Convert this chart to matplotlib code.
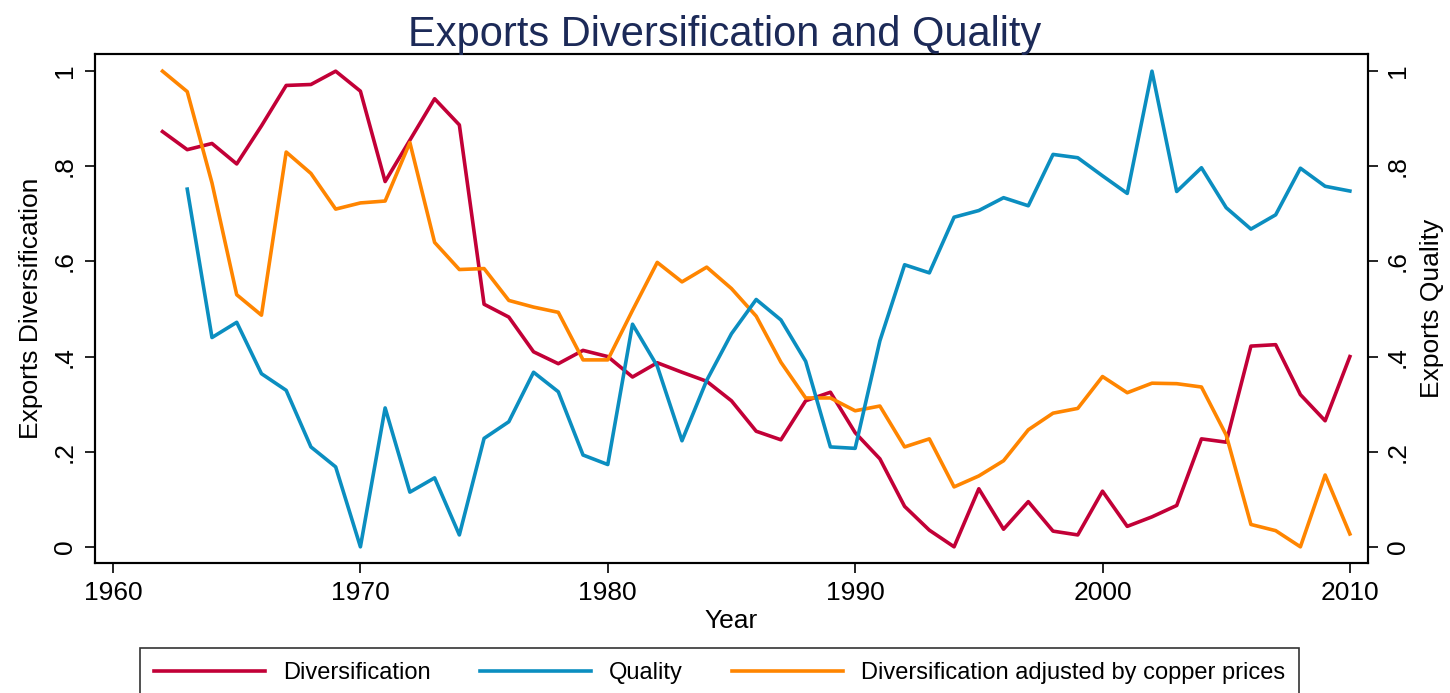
import numpy as np
import matplotlib
matplotlib.use("Agg")
import matplotlib.pyplot as plt

plt.rcParams["font.family"] = ["Liberation Sans", "DejaVu Sans"]

# Data
years = list(range(1962, 2011))
diversification = [0.873, 0.835, 0.848, 0.805, 0.885, 0.970, 0.972, 1.000, 0.958, 0.768,
                   0.855, 0.942, 0.887, 0.510, 0.483, 0.410, 0.385, 0.413, 0.400, 0.357,
                   0.387, 0.367, 0.348, 0.307, 0.243, 0.225, 0.307, 0.325, 0.240, 0.185,
                   0.085, 0.035, 0.000, 0.122, 0.037, 0.095, 0.033, 0.025, 0.117, 0.043,
                   0.063, 0.087, 0.227, 0.220, 0.422, 0.425, 0.320, 0.265, 0.400]
quality_years = list(range(1963, 2011))
quality = [0.752, 0.440, 0.472, 0.364, 0.329, 0.210, 0.168, 0.000, 0.292, 0.115,
           0.145, 0.025, 0.228, 0.263, 0.367, 0.326, 0.193, 0.173, 0.468, 0.380,
           0.223, 0.350, 0.448, 0.520, 0.477, 0.390, 0.210, 0.207, 0.433, 0.593,
           0.576, 0.693, 0.707, 0.734, 0.717, 0.825, 0.818, 0.780, 0.743, 1.000,
           0.747, 0.797, 0.713, 0.668, 0.698, 0.796, 0.758, 0.748]
div_copper = [1.000, 0.957, 0.765, 0.530, 0.487, 0.830, 0.785, 0.710, 0.723, 0.727,
              0.850, 0.640, 0.583, 0.585, 0.518, 0.504, 0.493, 0.393, 0.393, 0.497,
              0.598, 0.557, 0.588, 0.543, 0.485, 0.388, 0.313, 0.313, 0.286, 0.296,
              0.210, 0.227, 0.126, 0.149, 0.181, 0.246, 0.281, 0.291, 0.358, 0.324,
              0.344, 0.343, 0.336, 0.235, 0.047, 0.034, 0.000, 0.151, 0.027]

yticks = [0, 0.2, 0.4, 0.6, 0.8, 1.0]
ytick_labels = ["0", ".2", ".4", ".6", ".8", "1"]
xticks = [1960, 1970, 1980, 1990, 2000, 2010]

c_red = "#c20037"
c_blue = "#0b8ec0"
c_orange = "#ff8500"

fig = plt.figure(figsize=(14.5, 6.93), dpi=100)
ax = fig.add_axes([0.0655, 0.1876, 0.8779, 0.7344])
ax2 = ax.twinx()

l1, = ax.plot(years, diversification, color=c_red, lw=2.6)
l3, = ax.plot(years, div_copper, color=c_orange, lw=2.6)
l2, = ax2.plot(quality_years, quality, color=c_blue, lw=2.6)

for a in (ax, ax2):
    a.set_xlim(1959.27, 2010.73)
    a.set_ylim(-0.034, 1.036)
    a.set_yticks(yticks)
    a.set_yticklabels(ytick_labels, rotation=90, va="center", fontsize=19)
    a.tick_params(axis="y", length=7, width=1.2, pad=6)
    for s in a.spines.values():
        s.set_linewidth(1.5)

ax.set_xticks(xticks)
ax.set_xticklabels([str(x) for x in xticks], fontsize=19)
ax.tick_params(axis="x", length=7, width=1.2, pad=6)

ax.set_xlabel("Year", fontsize=19, labelpad=3)
ax.set_ylabel("Exports Diversification", fontsize=19, labelpad=7)
ax2.set_ylabel("Exports Quality", fontsize=19, labelpad=7)

fig.suptitle("Exports Diversification and Quality", fontsize=30, color="#1c2a58", y=0.978)

# legend box sits partly below the figure edge as in the reference
leg = fig.legend([l1, l2, l3],
                 ["Diversification", "Quality", "Diversification adjusted by copper prices"],
                 loc="upper left", bbox_to_anchor=(0.0966, 0.065), bbox_transform=fig.transFigure,
                 ncol=3, fontsize=17, frameon=True, fancybox=False, edgecolor="black",
                 handlelength=4.7, handletextpad=0.75, columnspacing=2.1,
                 borderpad=0.6, borderaxespad=0)
leg.get_frame().set_linewidth(1.2)

fig.savefig("out.png", dpi=100)
